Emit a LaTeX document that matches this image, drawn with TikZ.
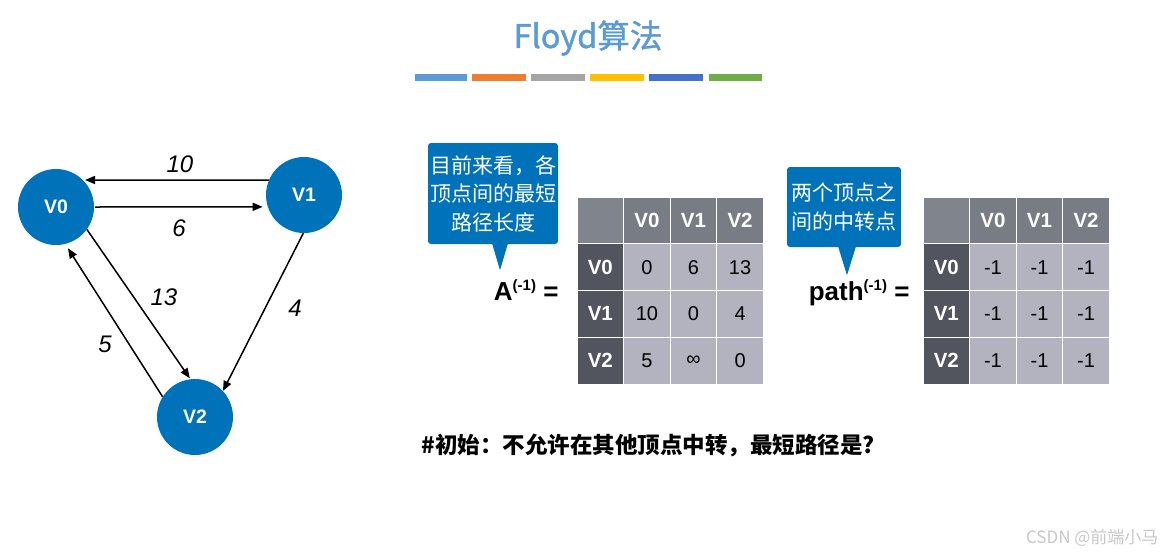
\documentclass[tikz,border=0pt]{standalone}
\usepackage{fontspec}
\setmainfont{Liberation Sans}
\newfontfamily\cjk{Noto Sans CJK SC}
\newfontfamily\cjktitle{Noto Sans CJK SC}[FakeBold=1.3]
\usetikzlibrary{arrows.meta}

\definecolor{vblue}{RGB}{0,114,186}
\definecolor{titleblue}{RGB}{91,155,213}
\definecolor{barA}{RGB}{91,155,213}
\definecolor{barB}{RGB}{237,125,49}
\definecolor{barC}{RGB}{165,165,165}
\definecolor{barD}{RGB}{255,192,0}
\definecolor{barE}{RGB}{68,114,196}
\definecolor{barF}{RGB}{112,173,71}
\definecolor{hdgray}{RGB}{120,124,133}
\definecolor{cornergray}{RGB}{128,132,141}
\definecolor{rowgray}{RGB}{82,84,94}
\definecolor{cellgray}{RGB}{178,179,190}
\definecolor{markgray}{RGB}{200,200,200}

\tikzset{
  vertex/.style={circle, fill=vblue, minimum size=76pt, inner sep=0pt,
    text=white, font=\fontsize{19.5}{19.5}\selectfont\bfseries},
  arr/.style={line width=1.5pt, -{Triangle[length=10pt,width=8pt]}},
  weight/.style={font=\fontsize{24}{24}\selectfont\itshape},
  bar/.style={line width=7pt},
  callout/.style={fill=vblue, rounded corners=3pt, text=white, align=center,
    inner sep=0pt, font=\cjk\fontsize{21}{28.5}\selectfont},
  cell/.style={draw=white, line width=0.8pt, minimum width=46.6pt,
    minimum height=46.75pt, inner sep=0pt, anchor=center},
  hd/.style={cell, fill=hdgray, text=white, font=\fontsize{20.5}{20.5}\selectfont\bfseries},
  corner/.style={cell, fill=cornergray},
  rowhd/.style={cell, fill=rowgray, text=white, font=\fontsize{20.5}{20.5}\selectfont\bfseries},
  val/.style={cell, fill=cellgray, text=black, font=\fontsize{20}{20}\selectfont},
  eqlabel/.style={anchor=base east, font=\fontsize{26}{26}\selectfont\bfseries},
}

\newcommand{\supmark}[1]{\raisebox{9.5pt}{\fontsize{15}{15}\selectfont\bfseries #1}}

\begin{document}
\begin{tikzpicture}[x=1pt,y=-1pt]
\useasboundingbox (0,0) rectangle (1171,558);

% title and colour strip
\node[text=titleblue, font=\cjktitle\fontsize{32.5}{32.5}\selectfont] (title) at (588,38) {Floyd算法};
\draw[bar, barA] (415,77.5) -- (467,77.5);
\draw[bar, barB] (472,77.5) -- (526,77.5);
\draw[bar, barC] (531,77.5) -- (585,77.5);
\draw[bar, barD] (590,77.5) -- (644,77.5);
\draw[bar, barE] (649,77.5) -- (703,77.5);
\draw[bar, barF] (709,77.5) -- (762,77.5);

% graph
\node[vertex] (v0) at (56,207) {V0};
\node[vertex] (v1) at (304,195) {V1};
\node[vertex] (v2) at (195,417) {V2};

\draw[arr, shorten >=2pt] (v1.157) -- (v0.45);
\draw[arr, shorten <=1pt, shorten >=5pt] (v0.0) -- (v1.198.5);
\draw[arr, shorten >=1pt] (v0.-36) -- (v2.97);
\draw[arr, shorten >=5pt] (v2.148) -- (v0.-76);
\draw[arr] (v1.-91) -- (v2.43);

\node[weight] (w10) at (180,164) {10};
\node[weight] (w6)  at (179,228) {6};
\node[weight] (w13) at (164,297) {13};
\node[weight] (w5)  at (105,344) {5};
\node[weight] (w4)  at (295,308) {4};

% callouts
\node[callout, minimum width=130pt, minimum height=101pt] (c1) at (493,193.5)
  {目前来看，各\\顶点间的最短\\路径长度};
\fill[vblue] ([xshift=-1pt,yshift=1pt]c1.south) -- ([xshift=15pt,yshift=1pt]c1.south)
  -- ([xshift=7pt,yshift=-26pt]c1.south) -- cycle;

\node[callout, minimum width=114pt, minimum height=80pt] (c2) at (844,207)
  {两个顶点之\\间的中转点};
\fill[vblue] ([xshift=-6pt,yshift=1pt]c2.south) -- ([xshift=12pt,yshift=1pt]c2.south)
  -- ([xshift=3pt,yshift=-28pt]c2.south) -- cycle;

% labels of the matrices
\node[eqlabel] (la) at (562,300) {A\supmark{(-1)} =};
\node[eqlabel] (lp) at (913,300) {path\supmark{(-1)} =};

% distance matrix
\node[corner] (a-0-0) at ({577+46.6*0.5},{197+46.75*0.5}) {};
\foreach \c/\t in {1/V0,2/V1,3/V2}
  \node[hd] (a-0-\c) at ({577+46.6*(\c+0.5)},{197+46.75*0.5}) {\t};
\foreach \r/\t/\p/\q/\s in {1/V0/0/6/13, 2/V1/10/0/4, 3/V2/5/∞/0} {
  \node[rowhd] (a-\r-0) at ({577+46.6*0.5},{197+46.75*(\r+0.5)}) {\t};
  \node[val] (a-\r-1) at ({577+46.6*1.5},{197+46.75*(\r+0.5)}) {\p};
  \node[val] (a-\r-2) at ({577+46.6*2.5},{197+46.75*(\r+0.5)}) {\q};
  \node[val] (a-\r-3) at ({577+46.6*3.5},{197+46.75*(\r+0.5)}) {\s};
}

% path matrix
\node[corner] (p-0-0) at ({923+46.6*0.5},{197+46.75*0.5}) {};
\foreach \c/\t in {1/V0,2/V1,3/V2}
  \node[hd] (p-0-\c) at ({923+46.6*(\c+0.5)},{197+46.75*0.5}) {\t};
\foreach \r/\t in {1/V0, 2/V1, 3/V2} {
  \node[rowhd] (p-\r-0) at ({923+46.6*0.5},{197+46.75*(\r+0.5)}) {\t};
  \foreach \c in {1,2,3}
    \node[val] (p-\r-\c) at ({923+46.6*(\c+0.5)},{197+46.75*(\r+0.5)}) {-1};
}

% question
\node[anchor=west, font=\cjk\bfseries\fontsize{22.5}{22.5}\selectfont] (q) at (418,445)
  {\#初始：不允许在其他顶点中转，最短路径是?};

% watermark
\node[anchor=east, text=markgray, font=\cjk\fontsize{17}{17}\selectfont] (wm) at (1162,538)
  {CSDN @前端小马};
\end{tikzpicture}
\end{document}
